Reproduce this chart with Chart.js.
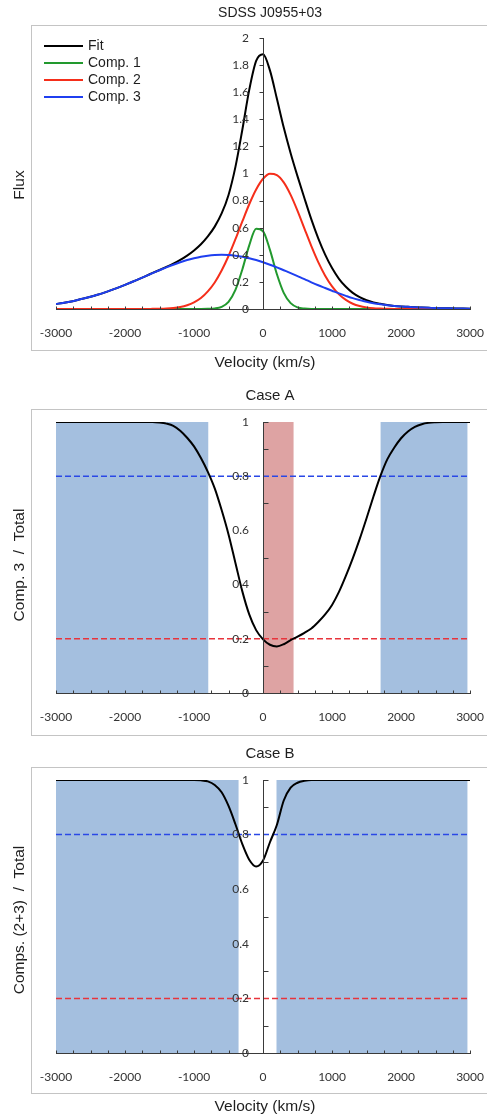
<!DOCTYPE html>
<html>
<head>
<meta charset="utf-8">
<script src="https://cdn.jsdelivr.net/npm/chart.js@4.4.1/dist/chart.umd.min.js"></script>
<style>
  html, body { margin: 0; padding: 0; background: #fff; }
  #page { position: relative; width: 487px; height: 1114px; overflow: hidden; }
  canvas { position: absolute; left: 0; }
</style>
</head>
<body>
<div id="page">
  <canvas id="fluxChart" width="501" height="372" style="top:0px"></canvas>
  <canvas id="caseAChart" width="501" height="373" style="top:372px"></canvas>
  <canvas id="caseBChart" width="501" height="369" style="top:745px"></canvas>
</div>
<script>
// velocity grid (km/s)
const velocity = [
  -3000, -2900, -2800, -2700, -2600, -2500, -2400, -2300, -2200, -2100,
  -2000, -1900, -1800, -1700, -1600, -1500, -1400, -1300, -1200, -1100,
  -1000, -900, -800, -700, -600, -500, -400, -300, -200, -100,
  0, 100, 200, 300, 400, 500, 600, 700, 800, 900,
  1000, 1100, 1200, 1300, 1400, 1500, 1600, 1700, 1800, 1900,
  2000, 2100, 2200, 2300, 2400, 2500, 2600, 2700, 2800, 2900, 3000
];

// top panel: flux
const fit = [
  0.037, 0.045, 0.054, 0.065, 0.077, 0.090, 0.105, 0.121, 0.139, 0.158,
  0.178, 0.199, 0.221, 0.243, 0.266, 0.288, 0.311, 0.335, 0.362, 0.394,
  0.432, 0.478, 0.536, 0.608, 0.705, 0.842, 1.049, 1.323, 1.617, 1.831,
  1.880, 1.761, 1.553, 1.339, 1.150, 0.979, 0.817, 0.661, 0.521, 0.401,
  0.302, 0.223, 0.164, 0.119, 0.088, 0.065, 0.049, 0.038, 0.029, 0.023,
  0.019, 0.016, 0.013, 0.011, 0.009, 0.007, 0.006, 0.005, 0.004, 0.003, 0.002
];
const comp1 = [
  0, 0, 0, 0, 0, 0, 0, 0, 0, 0,
  0, 0, 0, 0, 0, 0, 0, 0, 0, 0,
  0, 0, 0.001, 0.004, 0.016, 0.053, 0.141, 0.292, 0.470, 0.592,
  0.574, 0.436, 0.258, 0.119, 0.043, 0.012, 0.003, 0, 0, 0,
  0, 0, 0, 0, 0, 0, 0, 0, 0, 0,
  0, 0, 0, 0, 0, 0, 0, 0, 0, 0, 0
];
const comp2 = [
  0, 0, 0, 0, 0, 0, 0, 0, 0, 0,
  0, 0, 0, 0, 0.001, 0.002, 0.004, 0.008, 0.015, 0.028,
  0.049, 0.081, 0.130, 0.196, 0.284, 0.391, 0.515, 0.646, 0.773, 0.882,
  0.961, 0.998, 0.988, 0.934, 0.842, 0.724, 0.593, 0.464, 0.346, 0.246,
  0.167, 0.108, 0.067, 0.039, 0.022, 0.012, 0.006, 0.003, 0.001, 0,
  0, 0, 0, 0, 0, 0, 0, 0, 0, 0, 0
];
const comp3 = [
  0.037, 0.045, 0.054, 0.065, 0.077, 0.090, 0.105, 0.121, 0.139, 0.158,
  0.178, 0.199, 0.221, 0.243, 0.265, 0.286, 0.307, 0.327, 0.345, 0.361,
  0.374, 0.385, 0.393, 0.398, 0.400, 0.398, 0.393, 0.385, 0.374, 0.361,
  0.345, 0.327, 0.307, 0.286, 0.265, 0.243, 0.221, 0.197, 0.175, 0.155,
  0.135, 0.115, 0.097, 0.080, 0.066, 0.053, 0.043, 0.035, 0.028, 0.023,
  0.019, 0.016, 0.013, 0.011, 0.009, 0.007, 0.006, 0.005, 0.004, 0.003, 0.002
];

// Case A: Comp. 3 / Total
const ratioA = [
  1, 1, 1, 1, 1, 1, 1, 1, 1, 1,
  1, 1, 1, 1, 1, 0.998, 0.994, 0.986, 0.968, 0.942,
  0.910, 0.867, 0.816, 0.755, 0.675, 0.585, 0.480, 0.375, 0.290, 0.232,
  0.198, 0.178, 0.172, 0.180, 0.195, 0.208, 0.222, 0.238, 0.262, 0.290,
  0.325, 0.373, 0.432, 0.497, 0.568, 0.645, 0.725, 0.800, 0.862, 0.905,
  0.940, 0.965, 0.982, 0.992, 0.997, 0.999, 1, 1, 1, 1, 1
];
// Case B: Comps. (2+3) / Total
const ratioB = [
  1, 1, 1, 1, 1, 1, 1, 1, 1, 1,
  1, 1, 1, 1, 1, 1, 1, 1, 1, 1,
  1, 0.999, 0.995, 0.982, 0.955, 0.905, 0.838, 0.765, 0.708, 0.683,
  0.705, 0.772, 0.835, 0.925, 0.972, 0.990, 0.997, 1, 1, 1,
  1, 1, 1, 1, 1, 1, 1, 1, 1, 1,
  1, 1, 1, 1, 1, 1, 1, 1, 1, 1, 1
];

// shaded velocity ranges and threshold levels
const caseABlue = [[-3000, -790], [1700, 2965]];
const caseARed = [[0, 445]];
const caseBBlue = [[-3000, -352], [192, 2965]];
const upperLevel = 0.8;
const lowerLevel = 0.2;
const levelSpan = [-3000, 2965];

const tickFont = { family: 'Lato', size: 12 };
const textFont = '"Liberation Sans", Arial, sans-serif';

const pts = ys => velocity.map((v, i) => ({ x: v, y: ys[i] }));
const seg = (range, y) => [{ x: range[0], y: y }, { x: range[1], y: y }];

function curve(label, ys, color, order) {
  return {
    label: label, data: pts(ys), borderColor: color, borderWidth: 2,
    pointRadius: 0, cubicInterpolationMode: 'monotone', fill: false, order: order
  };
}
function level(y, color) {
  return {
    data: seg(levelSpan, y), borderColor: color, borderWidth: 1.5,
    borderDash: [6, 3], pointRadius: 0, fill: false, order: 5
  };
}
function band(range, color) {
  return {
    data: seg(range, 1), borderColor: 'rgba(0,0,0,0)', borderWidth: 0,
    backgroundColor: color, pointRadius: 0, fill: 'origin', order: 9
  };
}

// outer frame + titles
const framePlugin = {
  id: 'frame',
  beforeDraw(chart, args, o) {
    const c = chart.ctx;
    c.save();
    c.fillStyle = '#fff';
    c.fillRect(0, 0, chart.width, chart.height);
    c.strokeStyle = '#c4c4c4';
    c.lineWidth = 1;
    c.strokeRect(o.box[0] + 0.5, o.box[1] + 0.5, o.box[2], o.box[3]);
    c.restore();
  },
  afterDraw(chart, args, o) {
    const c = chart.ctx;
    c.save();
    c.fillStyle = '#1e1e1e';
    c.textAlign = 'center';
    c.textBaseline = 'middle';
    c.font = o.titleSize + 'px ' + textFont;
    c.fillText(o.title, o.titleAt[0], o.titleAt[1]);
    c.font = '15.5px ' + textFont;
    if (o.xTitle) c.fillText(o.xTitle, o.xTitleAt[0], o.xTitleAt[1]);
    c.translate(o.yTitleAt[0], o.yTitleAt[1]);
    c.rotate(-Math.PI / 2);
    c.fillText(o.yTitle, 0, 0);
    c.restore();
  }
};

// small tick marks on the crossing axes
const tickPlugin = {
  id: 'tickMarks',
  afterDraw(chart, args, o) {
    const xs = chart.scales.x, ys = chart.scales.y;
    const c = chart.ctx;
    const ax = Math.round(xs.getPixelForValue(0)) + 0.5;
    const ay = Math.round(ys.getPixelForValue(0)) + 0.5;
    c.save();
    c.strokeStyle = '#3a3a3a';
    c.lineWidth = 1;
    c.beginPath();
    xs.ticks.forEach(t => {
      const px = Math.round(xs.getPixelForValue(t.value)) + 0.5;
      c.moveTo(px, ay);
      c.lineTo(px, ay - 3);
    });
    ys.ticks.forEach(t => {
      const py = Math.round(ys.getPixelForValue(t.value)) + 0.5;
      const tenth = Math.round(t.value * 10);
      if (o.rightOdd) {
        if (tenth % 2 === 1 || tenth === 10) { c.moveTo(ax, py); c.lineTo(ax + 5, py); }
      } else {
        c.moveTo(ax, py); c.lineTo(ax - 4, py);
      }
    });
    c.stroke();
    c.restore();
  }
};

// legend in the upper left corner
const legendPlugin = {
  id: 'cornerLegend',
  afterDraw(chart, args, o) {
    const c = chart.ctx;
    c.save();
    c.font = '14px ' + textFont;
    c.textAlign = 'left';
    c.textBaseline = 'middle';
    chart.data.datasets.forEach((ds, i) => {
      const y = o.top + i * o.step;
      c.strokeStyle = ds.borderColor;
      c.lineWidth = 2;
      c.beginPath();
      c.moveTo(o.left, y);
      c.lineTo(o.left + 39, y);
      c.stroke();
      c.fillStyle = '#1e1e1e';
      c.fillText(ds.label, o.left + 44, y);
    });
    c.restore();
  }
};

function scales(yMax, yStep, oddLabels) {
  return {
    x: {
      type: 'linear', min: -3000, max: 3000, position: { y: 0 },
      grid: { display: false, drawTicks: false },
      border: { display: true, color: '#3a3a3a', width: 1, z: 1 },
      ticks: {
        stepSize: 250, autoSkip: false, maxRotation: 0, padding: 17, z: 1,
        color: '#333', font: tickFont,
        callback: v => (v % 1000 === 0 ? String(v) : '')
      }
    },
    // symmetric x range, so the centred y axis sits at velocity 0
    y: {
      type: 'linear', min: 0, max: yMax, position: 'center', axis: 'y',
      grid: { display: false, drawTicks: false },
      border: { display: true, color: '#3a3a3a', width: 1, z: 1 },
      ticks: {
        stepSize: yStep, autoSkip: false, padding: 14, z: 1,
        color: '#333', font: tickFont,
        callback: v => {
          const tenth = Math.round(v * 10);
          if (oddLabels && tenth % 2 !== 0) return '';
          return String(tenth / 10);
        }
      }
    }
  };
}

function baseOptions(padding, yMax, yStep, oddLabels, frame, ticks, legend) {
  return {
    responsive: false, animation: false, events: [],
    layout: { padding: padding },
    scales: scales(yMax, yStep, oddLabels),
    plugins: {
      legend: { display: false }, tooltip: { enabled: false }, title: { display: false },
      frame: frame, tickMarks: ticks, cornerLegend: legend || {}
    }
  };
}

new Chart(document.getElementById('fluxChart'), {
  type: 'line',
  data: {
    datasets: [
      curve('Fit', fit, '#000000', 4),
      curve('Comp. 1', comp1, '#22992e', 3),
      curve('Comp. 2', comp2, '#f52e1a', 2),
      curve('Comp. 3', comp3, '#1f3ff0', 1)
    ]
  },
  options: baseOptions(
    { left: 56, right: 3, top: 38, bottom: 63 }, 2, 0.2, false,
    { box: [31, 25, 480, 325], title: 'SDSS J0955+03', titleSize: 14, titleAt: [270, 13],
      xTitle: 'Velocity (km/s)', xTitleAt: [265, 363], yTitle: 'Flux', yTitleAt: [20, 185] },
    { rightOdd: false },
    { left: 44, top: 46, step: 17 }
  ),
  plugins: [framePlugin, tickPlugin, legendPlugin]
});

new Chart(document.getElementById('caseAChart'), {
  type: 'line',
  data: {
    datasets: [
      curve('Comp. 3 / Total', ratioA, '#000000', 0),
      level(upperLevel, '#2a48e6'),
      level(lowerLevel, '#e8343c'),
      band(caseARed[0], '#dea3a3'),
      band(caseABlue[0], '#a4bfdf'),
      band(caseABlue[1], '#a4bfdf')
    ]
  },
  options: baseOptions(
    { left: 56, right: 3, top: 50, bottom: 52 }, 1, 0.1, true,
    { box: [31, 37, 480, 326], title: 'Case A', titleSize: 15, titleAt: [270, 24],
      xTitle: '', yTitle: 'Comp. 3  /  Total', yTitleAt: [20, 193] },
    { rightOdd: true }
  ),
  plugins: [framePlugin, tickPlugin]
});

new Chart(document.getElementById('caseBChart'), {
  type: 'line',
  data: {
    datasets: [
      curve('Comps. (2+3) / Total', ratioB, '#000000', 0),
      level(upperLevel, '#2a48e6'),
      level(lowerLevel, '#e8343c'),
      band(caseBBlue[0], '#a4bfdf'),
      band(caseBBlue[1], '#a4bfdf')
    ]
  },
  options: baseOptions(
    { left: 56, right: 3, top: 35, bottom: 61 }, 1, 0.1, true,
    { box: [31, 22, 480, 326], title: 'Case B', titleSize: 15, titleAt: [270, 9],
      xTitle: 'Velocity (km/s)', xTitleAt: [265, 362], yTitle: 'Comps. (2+3)  /  Total', yTitleAt: [20, 175] },
    { rightOdd: true }
  ),
  plugins: [framePlugin, tickPlugin]
});
</script>
</body>
</html>
